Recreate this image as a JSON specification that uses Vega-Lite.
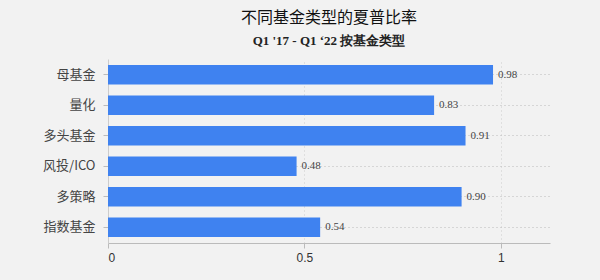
{
  "$schema": "https://vega.github.io/schema/vega-lite/v6.json",
  "width": 442,
  "height": 184,
  "padding": {"left": 5, "top": 10, "right": 50, "bottom": 20},
  "background": "#f2f2f2",
  "config": {"view": {"stroke": null}},
  "title": {
    "text": "不同基金类型的夏普比率",
    "subtitle": "Q1 '17 - Q1 ‘22 按基金类型",
    "font": "Noto Sans CJK SC",
    "fontSize": 16,
    "fontWeight": "normal",
    "color": "#111",
    "subtitleFont": "Liberation Serif",
    "subtitleFontSize": 13,
    "subtitleFontWeight": "bold",
    "subtitleColor": "#222",
    "subtitlePadding": 9,
    "anchor": "middle",
    "offset": 11
  },
  "data": {
    "values": [
      {"type": "母基金", "sharpe": 0.98},
      {"type": "量化", "sharpe": 0.83},
      {"type": "多头基金", "sharpe": 0.91},
      {"type": "风投/ICO", "sharpe": 0.48},
      {"type": "多策略", "sharpe": 0.90},
      {"type": "指数基金", "sharpe": 0.54}
    ]
  },
  "encoding": {
    "y": {
      "field": "type",
      "type": "nominal",
      "sort": null,
      "title": null,
      "scale": {"paddingInner": 0.36, "paddingOuter": 0.2},
      "axis": {
        "labelFont": "Noto Sans CJK SC",
        "labelFontSize": 13,
        "labelColor": "#444",
        "domainColor": "#ccc",
        "tickColor": "#bbb",
        "tickSize": 5,
        "labelPadding": 8,
        "minExtent": 103,
        "maxExtent": 103,
        "grid": true,
        "gridDash": [1, 3],
        "gridColor": "#bbb"
      }
    },
    "x": {
      "field": "sharpe",
      "type": "quantitative",
      "title": null,
      "scale": {"domain": [0, 1.125], "nice": false},
      "axis": {
        "values": [0, 0.5, 1],
        "format": "~g",
        "labelFont": "Liberation Sans",
        "labelFontSize": 12,
        "labelColor": "#333",
        "domainColor": "#bbb",
        "tickColor": "#bbb",
        "tickSize": 5,
        "labelPadding": 4,
        "grid": true,
        "gridDash": [1, 3],
        "gridColor": "#ccc"
      }
    }
  },
  "layer": [
    {"mark": {"type": "bar", "color": "#3f82f0"}},
    {
      "mark": {"type": "text", "align": "left", "dx": 5, "font": "Liberation Serif", "fontSize": 11, "color": "#444"},
      "encoding": {"text": {"field": "sharpe", "type": "quantitative", "format": ".2f"}}
    }
  ]
}
